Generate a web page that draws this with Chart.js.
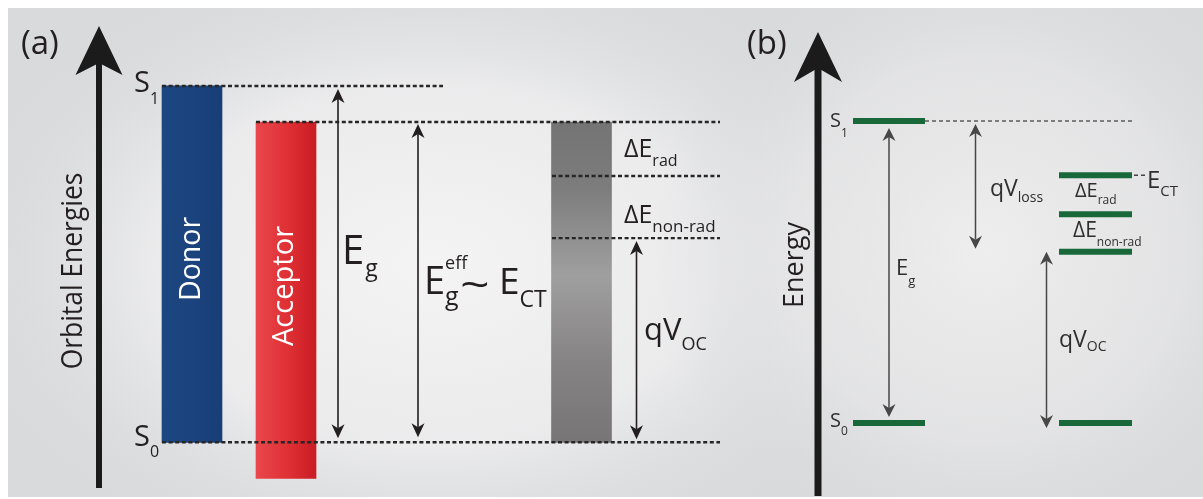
<!DOCTYPE html>
<html>
<head>
<meta charset="utf-8">
<script src="https://cdn.jsdelivr.net/npm/chart.js@4.4.1/dist/chart.umd.min.js"></script>
<style>
  html, body { margin: 0; padding: 0; background: #fff; overflow: hidden; }
  #wrap { width: 1203px; height: 499px; }
</style>
</head>
<body>
<div id="wrap"><canvas id="diagram" width="1203" height="499"></canvas></div>
<script>
// ---------- Panel (a): donor/acceptor blend, energies in eV above S0 ----------
const columnsA   = ['Donor', 'Acceptor', 'CT'];
const bandLowA   = [0.00, -0.18, 0.00];
const bandHighA  = [1.78,  1.60, 1.60];
const levelNamesA  = ['S1', 'ECT', 'ECT - dE_rad', 'qVoc', 'S0'];
const levelEnergyA = [1.78, 1.60, 1.33, 1.02, 0.00];
const arrowNamesA = ['Eg', 'Eg_eff', 'qVoc'];
const arrowLowA   = [0.00, 0.00, 0.00];
const arrowHighA  = [1.78, 1.60, 1.02];

// ---------- Panel (b): simplified level scheme ----------
const stateNamesB  = ['S1', 'S0'];
const stateEnergyB = [1.78, 0.00];
const ctNamesB  = ['ECT', 'ECT - dE_rad', 'qVoc', 'ground'];
const ctEnergyB = [1.46, 1.23, 1.01, 0.00];
const arrowNamesB = ['Eg', 'qVloss', 'qVoc'];
const arrowLowB   = [0.00, 1.01, 0.00];
const arrowHighB  = [1.78, 1.78, 1.01];

// ---------- layout (horizontal placement, canvas units) ----------
const layoutA = {
  barX: [192, 286, 581.5],
  barWidth: 60,
  levelSpan: [[162, 443], [256, 720], [552, 720], [552, 720], [162, 720]],
  arrowX: [338, 418, 636.5],
  arrowInset: [[3, 4], [2, 5], [3, 3]]
};
const layoutB = {
  stateSpan: [853, 925],
  dottedEnd: 1132,
  ctSpan: [1059, 1132],
  connector: [1134, 1147],
  arrowX: [889, 975.5, 1046.5],
  arrowInset: [[7, 6], [3, 3], [0, -5]]
};

const FONT = '"Open Sans", "Noto Sans", "DejaVu Sans", sans-serif';
const INK_A = '#231f20';
const INK_B = '#2e2e2e';
const GREEN = '#19683a';

// ---------- datasets ----------
const datasets = [];

datasets.push({
  type: 'bar',
  label: 'bands',
  yAxisID: 'ya',
  xAxisID: 'x',
  order: 3,
  barThickness: layoutA.barWidth,
  borderWidth: 0,
  data: columnsA.map((c, i) => ({ x: layoutA.barX[i], y: [bandLowA[i], bandHighA[i]] })),
  backgroundColor: (c) => {
    const chart = c.chart;
    const i = c.dataIndex;
    if (!chart.chartArea || i === undefined) return '#888';
    const g = chart.ctx;
    const sx = chart.scales.x, sy = chart.scales.ya;
    const xc = sx.getPixelForValue(layoutA.barX[i]);
    const half = layoutA.barWidth / 2;
    if (i === 0) {
      const gr = g.createLinearGradient(xc - half, 0, xc + half, 0);
      gr.addColorStop(0, '#1d4781');
      gr.addColorStop(0.5, '#1b437d');
      gr.addColorStop(1, '#183e76');
      return gr;
    }
    if (i === 1) {
      const gr = g.createLinearGradient(xc - half, 0, xc + half, 0);
      gr.addColorStop(0, '#ea474c');
      gr.addColorStop(0.55, '#de2f34');
      gr.addColorStop(1, '#c91c23');
      return gr;
    }
    const top = sy.getPixelForValue(bandHighA[i]);
    const bot = sy.getPixelForValue(bandLowA[i]);
    const gr = g.createLinearGradient(0, top, 0, bot);
    gr.addColorStop(0, '#757474');
    gr.addColorStop(0.2, '#7d7c7c');
    gr.addColorStop(0.48, '#a09f9f');
    gr.addColorStop(0.75, '#858383');
    gr.addColorStop(1, '#777575');
    return gr;
  }
});

levelEnergyA.forEach((e, i) => {
  datasets.push({
    type: 'line', label: levelNamesA[i], yAxisID: 'ya', xAxisID: 'x', order: 1,
    data: [{ x: layoutA.levelSpan[i][0], y: e }, { x: layoutA.levelSpan[i][1], y: e }],
    borderColor: '#262626', borderWidth: 2.4, borderDash: [4, 2.6],
    pointRadius: 0, fill: false, tension: 0, borderCapStyle: 'butt'
  });
});

stateEnergyB.forEach((e, i) => {
  datasets.push({
    type: 'line', label: stateNamesB[i], yAxisID: 'yb', xAxisID: 'x', order: 1,
    data: [{ x: layoutB.stateSpan[0], y: e }, { x: layoutB.stateSpan[1], y: e }],
    borderColor: GREEN, borderWidth: 6, pointRadius: 0, fill: false, borderCapStyle: 'butt'
  });
});

datasets.push({
  type: 'line', label: 'S1 guide', yAxisID: 'yb', xAxisID: 'x', order: 2,
  data: [{ x: layoutB.stateSpan[1], y: stateEnergyB[0] }, { x: layoutB.dottedEnd, y: stateEnergyB[0] }],
  borderColor: '#5c5c5c', borderWidth: 1.6, borderDash: [4, 3],
  pointRadius: 0, fill: false, borderCapStyle: 'butt'
});

ctEnergyB.forEach((e, i) => {
  datasets.push({
    type: 'line', label: ctNamesB[i], yAxisID: 'yb', xAxisID: 'x', order: 1,
    data: [{ x: layoutB.ctSpan[0], y: e }, { x: layoutB.ctSpan[1], y: e }],
    borderColor: GREEN, borderWidth: 6, pointRadius: 0, fill: false, borderCapStyle: 'butt'
  });
});

datasets.push({
  type: 'line', label: 'ECT connector', yAxisID: 'yb', xAxisID: 'x', order: 1,
  data: [{ x: layoutB.connector[0], y: ctEnergyB[0] }, { x: layoutB.connector[1], y: ctEnergyB[0] }],
  borderColor: '#444', borderWidth: 1.6, borderDash: [4, 3],
  pointRadius: 0, fill: false, borderCapStyle: 'butt'
});

// ---------- drawing helpers ----------
function drawRuns(g, x, y, runs, color) {
  g.fillStyle = color;
  g.textAlign = 'left';
  g.textBaseline = 'alphabetic';
  let cx = x;
  for (const [t, size, dy = 0, gap = 0, stay = false] of runs) {
    cx += gap;
    g.font = `${size}px ${FONT}`;
    g.fillText(t, cx, y + dy);
    if (!stay) cx += g.measureText(t).width;
  }
}

function drawStretched(g, text, x, y, size, stretch, color) {
  g.save();
  g.translate(x, y);
  g.scale(stretch, 1);
  g.font = `${size}px ${FONT}`;
  g.fillStyle = color;
  g.textAlign = 'left';
  g.textBaseline = 'alphabetic';
  g.fillText(text, 0, 0);
  g.restore();
}

function drawRotated(g, text, baseX, midY, size, color, squeeze = 1) {
  g.save();
  g.translate(baseX, midY);
  g.rotate(-Math.PI / 2);
  g.scale(squeeze, 1);
  g.font = `${size}px ${FONT}`;
  g.fillStyle = color;
  g.textAlign = 'center';
  g.textBaseline = 'alphabetic';
  g.fillText(text, 0, 0);
  g.restore();
}

function arrowHead(g, x, tipY, dir, len, hw, notch) {
  g.beginPath();
  g.moveTo(x, tipY);
  g.lineTo(x - hw, tipY - dir * len);
  g.lineTo(x, tipY - dir * (len - notch));
  g.lineTo(x + hw, tipY - dir * len);
  g.closePath();
  g.fill();
}

function doubleArrow(g, x, yTop, yBot, style) {
  const { len, hw, notch, color, width } = style;
  g.strokeStyle = color;
  g.fillStyle = color;
  g.lineWidth = width;
  g.beginPath();
  g.moveTo(x, yTop + len - notch);
  g.lineTo(x, yBot - len + notch);
  g.stroke();
  arrowHead(g, x, yTop, -1, len, hw, notch);
  arrowHead(g, x, yBot, 1, len, hw, notch);
}

function axisArrow(g, x, tipY, headBaseY, notchY, hw, bottomY, shaftW) {
  g.fillStyle = '#1b1b1b';
  g.fillRect(x - shaftW / 2, notchY - 2, shaftW, bottomY - notchY + 2);
  g.beginPath();
  g.moveTo(x, tipY);
  g.lineTo(x - hw, headBaseY);
  g.lineTo(x, notchY);
  g.lineTo(x + hw, headBaseY);
  g.closePath();
  g.fill();
}

// ---------- plugins ----------
const backdrop = {
  id: 'backdrop',
  beforeDraw(chart) {
    const g = chart.ctx;
    const W = chart.width, H = chart.height;
    g.save();
    g.fillStyle = '#ffffff';
    g.fillRect(0, 0, W, H);
    g.beginPath();
    g.rect(8, 8, W - 8, 489);
    g.clip();
    g.fillStyle = '#d9dadc';
    g.fillRect(0, 0, W, H);
    const glow = (cx, cy, rx, ry, stops) => {
      g.save();
      g.translate(cx, cy);
      g.scale(rx / ry, 1);
      const gr = g.createRadialGradient(0, 0, 0, 0, 0, ry);
      stops.forEach(([p, c]) => gr.addColorStop(p, c));
      g.fillStyle = gr;
      g.fillRect(-W, -H, 2 * W, 2 * H);
      g.restore();
    };
    glow(430, 265, 500, 330, [[0, 'rgba(244,244,244,1)'], [0.55, 'rgba(238,238,239,0.85)'], [1, 'rgba(217,218,220,0)']]);
    glow(985, 250, 330, 320, [[0, 'rgba(238,238,238,1)'], [0.6, 'rgba(231,231,232,0.7)'], [1, 'rgba(217,218,220,0)']]);
    g.restore();
  }
};

const annotations = {
  id: 'annotations',
  afterDatasetsDraw(chart) {
    const g = chart.ctx;
    const sx = chart.scales.x, ya = chart.scales.ya, yb = chart.scales.yb;
    g.save();

    // energy axes
    axisArrow(g, 99, 26, 75, 63, 23.5, 488, 6);
    axisArrow(g, 818, 32, 82, 68, 24, 496, 7);

    // double-headed arrows, panel (a)
    const styleA = { len: 14, hw: 6.5, notch: 4, color: INK_A, width: 1.6 };
    arrowNamesA.forEach((n, i) => {
      const x = sx.getPixelForValue(layoutA.arrowX[i]);
      const [it, ib] = layoutA.arrowInset[i];
      doubleArrow(g, x, ya.getPixelForValue(arrowHighA[i]) + it, ya.getPixelForValue(arrowLowA[i]) - ib, styleA);
    });

    // double-headed arrows, panel (b)
    const styleB = { len: 13, hw: 6.5, notch: 4, color: '#474747', width: 1.5 };
    arrowNamesB.forEach((n, i) => {
      const x = sx.getPixelForValue(layoutB.arrowX[i]);
      const [it, ib] = layoutB.arrowInset[i];
      doubleArrow(g, x, yb.getPixelForValue(arrowHighB[i]) + it, yb.getPixelForValue(arrowLowB[i]) - ib, styleB);
    });

    // rotated captions
    drawRotated(g, 'Orbital Energies', 82, 271, 29, INK_A, 0.91);
    drawRotated(g, 'Donor', 200, 259, 30, '#ffffff', 0.95);
    drawRotated(g, 'Acceptor', 293, 286, 30, '#ffffff', 0.97);
    drawRotated(g, 'Energy', 803, 265, 27, INK_A);

    // panel (a) labels
    drawRuns(g, 21, 54, [['(a)', 33]], INK_A);
    drawRuns(g, 134, 92, [['S', 29], ['1', 16, 12]], INK_A);
    drawRuns(g, 134, 446, [['S', 29], ['0', 16, 11]], INK_A);
    drawRuns(g, 342, 264, [['E', 40], ['g', 23, 12, 1]], INK_A);
    drawRuns(g, 424, 294, [['E', 38], ['eff', 18, -25, 0, true], ['g', 25, 11]], INK_A);
    drawStretched(g, '~', 460, 299, 40, 1.3, INK_A);
    drawRuns(g, 499, 294, [['E', 37], ['CT', 23, 13]], INK_A);
    drawRuns(g, 624, 157, [['\u0394E', 25], ['rad', 16, 9]], INK_A);
    drawRuns(g, 624, 223, [['\u0394E', 25], ['non-rad', 17, 9]], INK_A);
    drawRuns(g, 644, 340, [['qV', 31], ['OC', 18, 10]], INK_A);

    // panel (b) labels
    drawRuns(g, 747, 54, [['(b)', 33]], INK_A);
    drawRuns(g, 830, 127, [['S', 20], ['1', 12, 10]], INK_B);
    drawRuns(g, 830, 427, [['S', 20], ['0', 12, 8]], INK_B);
    drawRuns(g, 896, 275, [['E', 22], ['g', 13, 10]], INK_B);
    drawRuns(g, 990, 196, [['qV', 23], ['loss', 14, 6]], INK_B);
    drawRuns(g, 1147, 188, [['E', 24], ['CT', 15, 8]], INK_B);
    drawRuns(g, 1075, 197, [['\u0394E', 20], ['rad', 12, 7]], INK_B);
    drawRuns(g, 1073, 237, [['\u0394E', 21], ['non-rad', 12, 9]], INK_B);
    drawRuns(g, 1059, 347, [['qV', 23], ['OC', 14, 4]], INK_B);

    g.restore();
  }
};

// ---------- chart ----------
new Chart(document.getElementById('diagram'), {
  type: 'bar',
  data: { datasets },
  options: {
    responsive: false,
    animation: false,
    devicePixelRatio: 1,
    layout: { padding: 0 },
    events: [],
    plugins: {
      legend: { display: false },
      title: { display: false },
      tooltip: { enabled: false }
    },
    scales: {
      x:  { type: 'linear', min: 0, max: 1203, display: false, offset: false, grid: { offset: false } },
      y:  { type: 'linear', display: false },
      ya: { type: 'linear', min: -0.2832, max: 2.2093, display: false },
      yb: { type: 'linear', min: -0.448, max: 2.4932, display: false }
    }
  },
  plugins: [backdrop, annotations]
});
</script>
</body>
</html>
